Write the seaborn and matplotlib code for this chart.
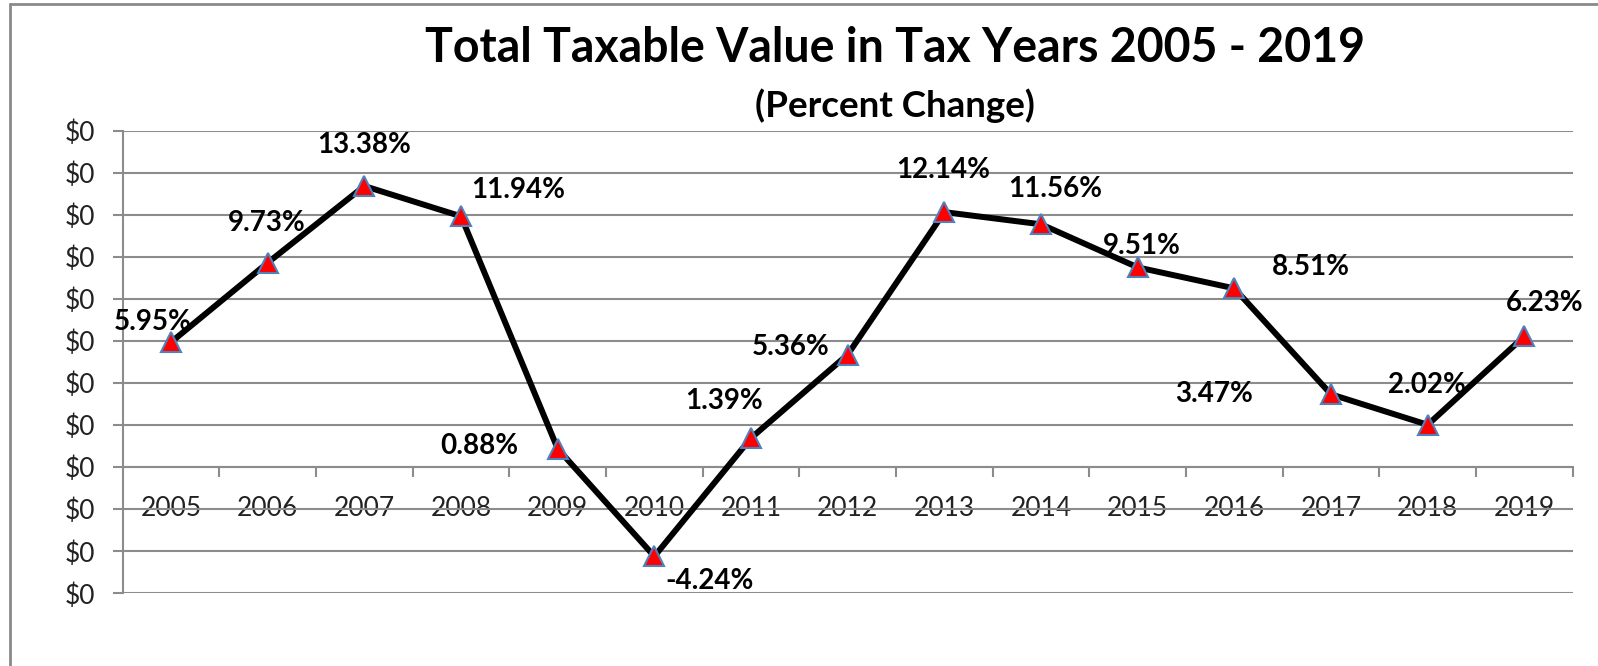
import matplotlib
matplotlib.use("Agg")
import matplotlib.pyplot as plt
import seaborn as sns
import pandas as pd
from matplotlib.lines import Line2D
from matplotlib.ticker import FixedLocator

# ---------------- data ----------------
years = ["2005", "2006", "2007", "2008", "2009", "2010", "2011", "2012",
         "2013", "2014", "2015", "2016", "2017", "2018", "2019"]
pct_change = [5.95, 9.73, 13.38, 11.94, 0.88, -4.24, 1.39, 5.36,
              12.14, 11.56, 9.51, 8.51, 3.47, 2.02, 6.23]
point_labels = ["5.95%", "9.73%", "13.38%", "11.94%", "0.88%", "-4.24%", "1.39%",
                "5.36%", "12.14%", "11.56%", "9.51%", "8.51%", "3.47%", "2.02%", "6.23%"]
y_ticks = [-6, -4, -2, 0, 2, 4, 6, 8, 10, 12, 14, 16]
y_tick_labels = ["$0"] * len(y_ticks)
title = "Total Taxable Value in Tax Years 2005 - 2019"
subtitle = "(Percent Change)"

# label offsets in pixels (style only)
label_offsets = [(-18, 20), (-1, 40), (0, 41), (57, 26), (-78, 3), (55, -25),
                 (-27, 37), (-57, 8), (-1, 42), (14, 35), (4, 21), (77, 21),
                 (-117, 0), (-1, 40), (20, 33)]

df = pd.DataFrame({"year": years, "pct": pct_change})

sns.set_theme(style="white")
plt.rcParams["font.family"] = ["Lato", "DejaVu Sans"]

W, H = 1598, 666
fig = plt.figure(figsize=(W / 100, H / 100), dpi=100)
ax = fig.add_axes([122.7 / W, 1 - 593.3 / H, (1572.7 - 122.7) / W, (593.3 - 131) / H])

grid_c = "#8c8c8c"
ax.set_ylim(-6, 16)
ax.set_xlim(-0.5, len(years) - 0.5)
ax.set_yticks(y_ticks)
ax.set_yticklabels(y_tick_labels)
ax.yaxis.grid(True, color=grid_c, linewidth=1.5)
ax.xaxis.grid(False)
ax.set_axisbelow(True)

sns.lineplot(data=df, x="year", y="pct", ax=ax, color="black", linewidth=4.3,
             marker="^", markersize=14.5, markerfacecolor="#ff0000",
             markeredgecolor="#4f81bd", markeredgewidth=1.5, zorder=3)

ax.set_xlabel("")
ax.set_ylabel("")

for s in ["top", "right"]:
    ax.spines[s].set_visible(False)
ax.spines["left"].set_color(grid_c)
ax.spines["left"].set_linewidth(1.5)
ax.spines["bottom"].set_position(("data", 0))
ax.spines["bottom"].set_color(grid_c)
ax.spines["bottom"].set_linewidth(1.5)

ax.tick_params(axis="y", which="major", length=7.2, width=1.5, color=grid_c,
               labelsize=19, labelcolor="#222222", pad=12.5, left=True, direction="out")
ax.set_xticks(range(len(years)))
ax.set_xticklabels(years)
ax.tick_params(axis="x", which="major", length=0, labelsize=19,
               labelcolor="#222222", pad=20.5, bottom=True)
ax.xaxis.set_minor_locator(FixedLocator([i + 0.5 for i in range(len(years))]))
ax.tick_params(axis="x", which="minor", length=7.2, width=1.5, color=grid_c,
               bottom=True, direction="out")

for i, (lab, v) in enumerate(zip(point_labels, pct_change)):
    dx, dy = label_offsets[i]
    ax.annotate(lab, (i, v), xytext=(dx, dy), textcoords="offset pixels",
                ha="center", va="center", fontsize=20, fontweight="bold",
                color="black", zorder=4)

fig.text(895 / W, 1 - 48 / H, title, ha="center", va="center",
         fontsize=33.5, fontweight="bold", color="black")
fig.text(895 / W, 1 - 106 / H, subtitle, ha="center", va="center",
         fontsize=26.5, fontweight="bold", color="black")

# outer frame lines (chart area border)
border_c = "#8a8a8a"
fig.add_artist(Line2D([10 / W, 10 / W], [0, 1 - 4 / H], transform=fig.transFigure,
                      color=border_c, linewidth=2))
fig.add_artist(Line2D([10 / W, 1], [1 - 4 / H, 1 - 4 / H], transform=fig.transFigure,
                      color=border_c, linewidth=2))

fig.savefig("out.png", dpi=100, facecolor="white")
